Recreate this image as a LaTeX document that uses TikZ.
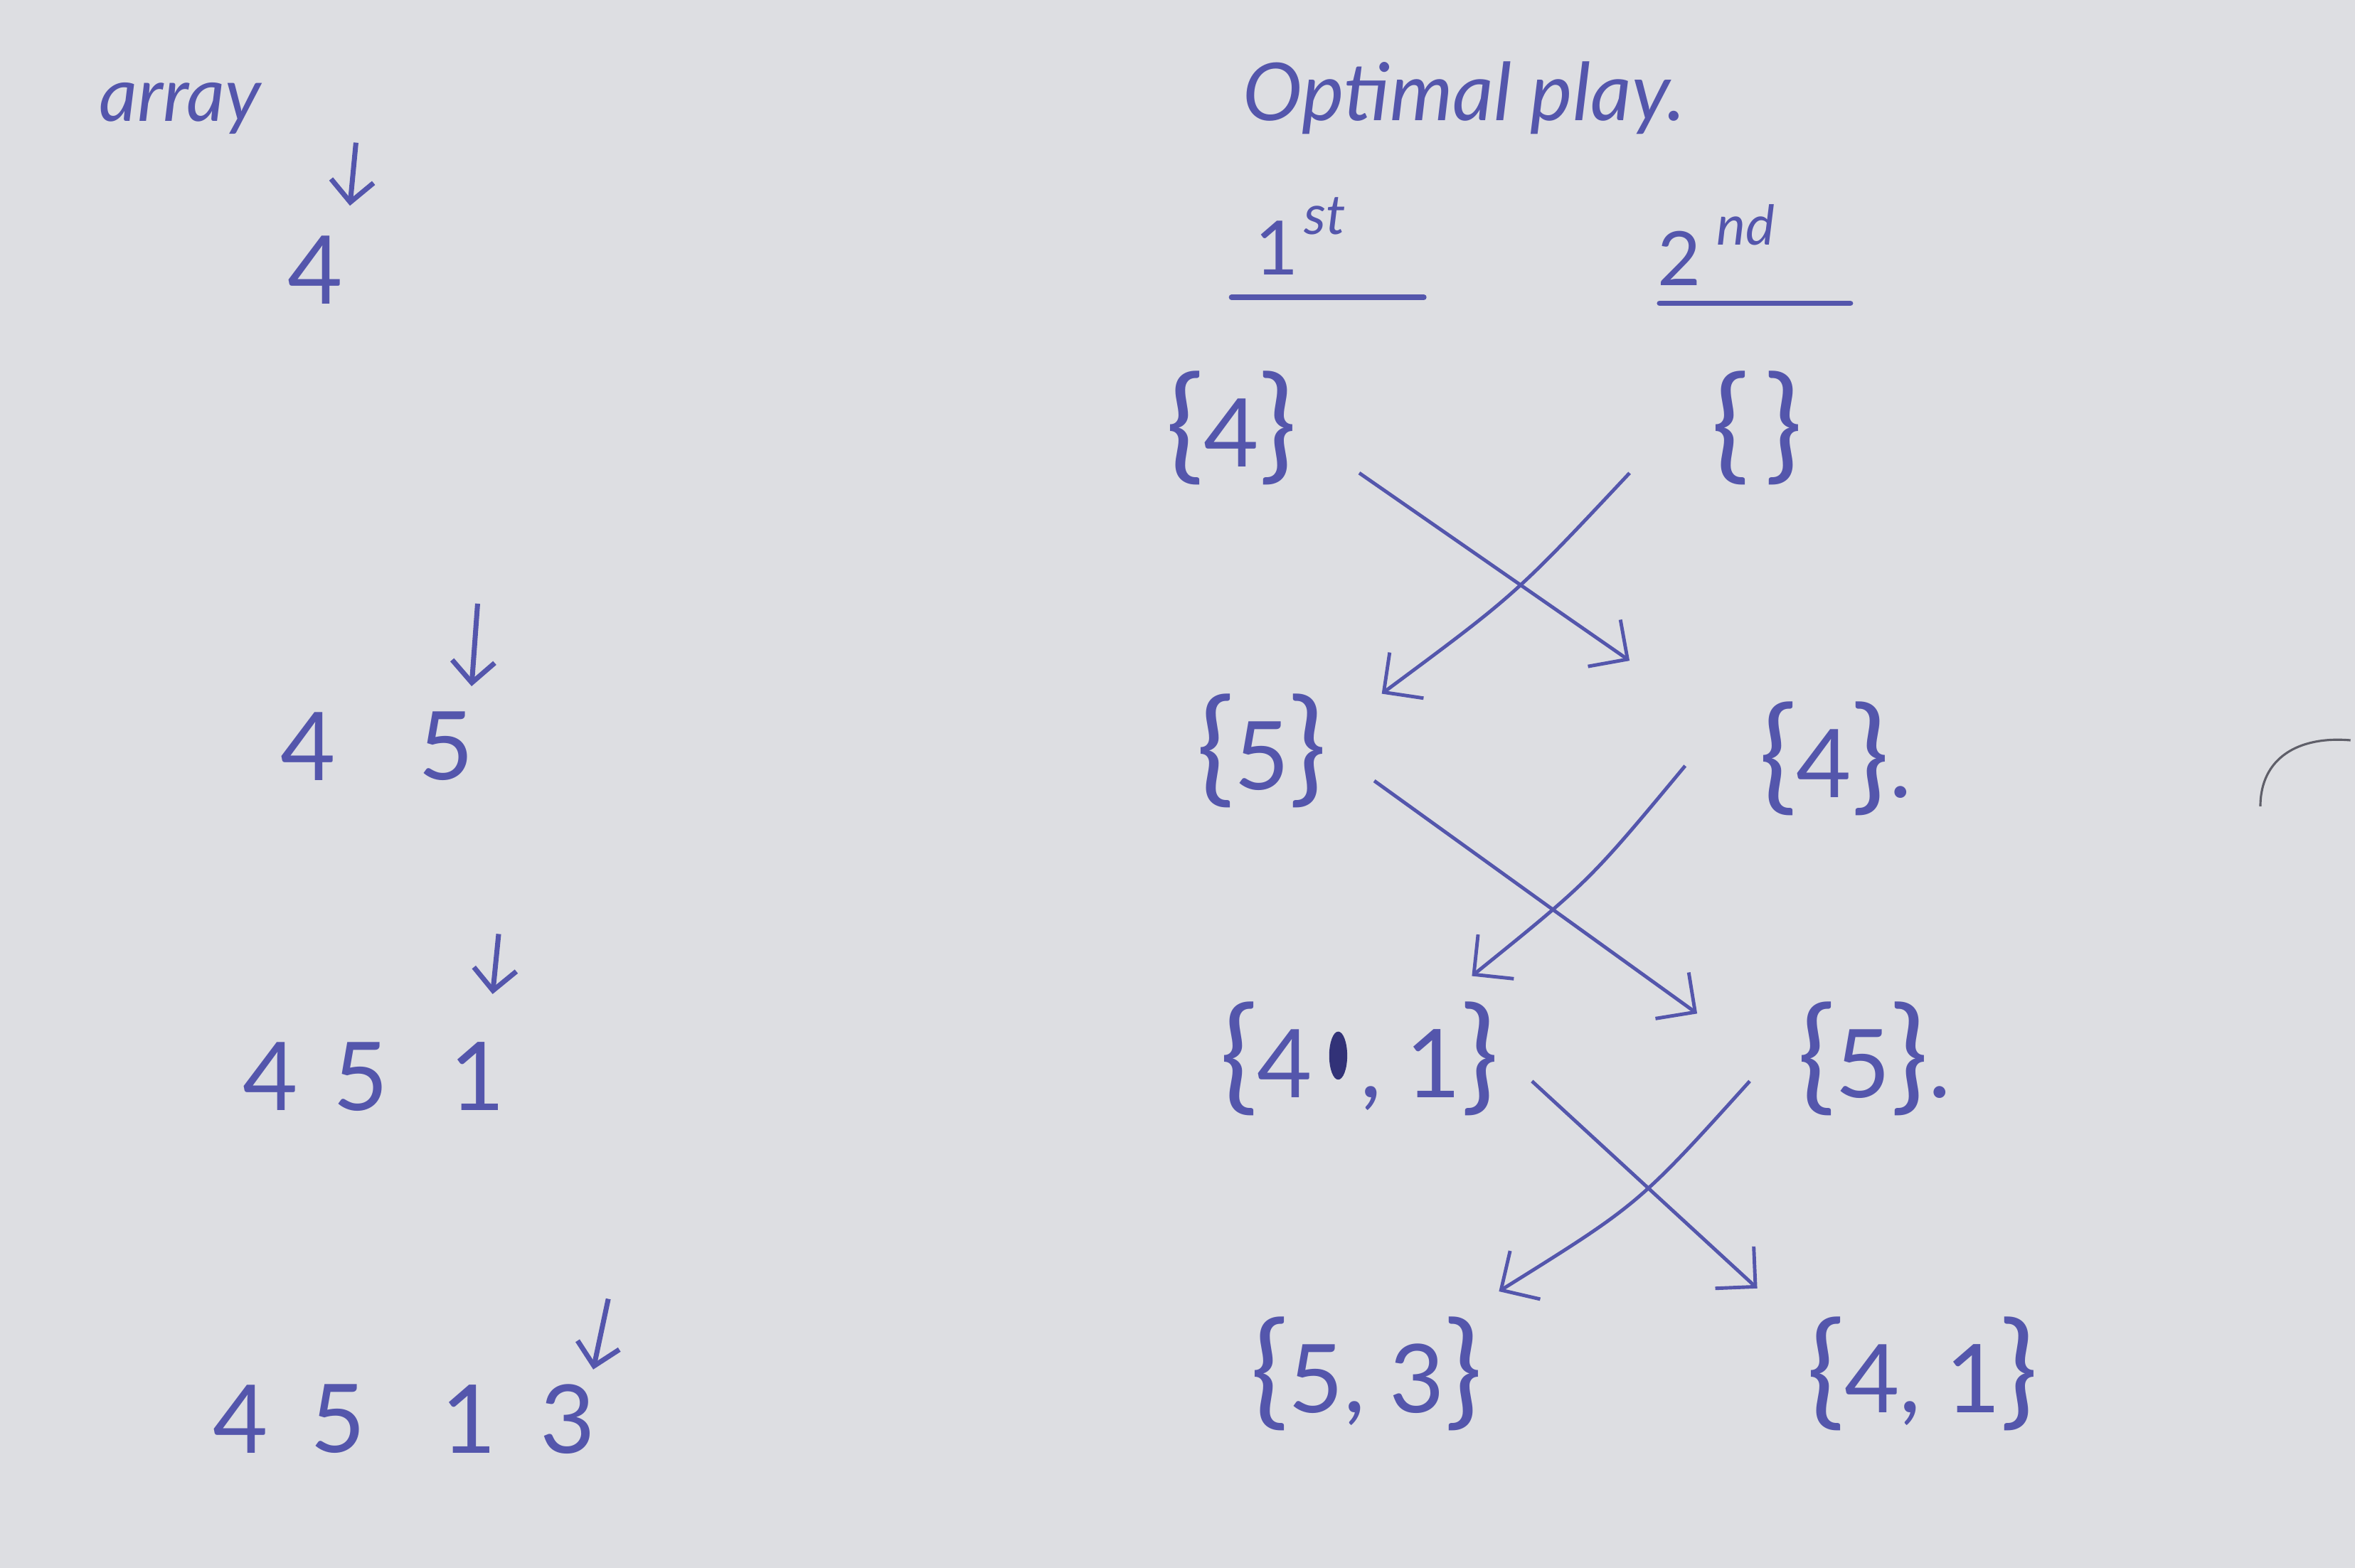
\documentclass[tikz,border=0pt]{standalone}
\usepackage{fontspec}
\setmainfont{Lato}
\usepackage{xcolor}
\usepackage{tikz}
\usetikzlibrary{arrows.meta,positioning,calc}

\definecolor{paper}{RGB}{221,222,226}
\definecolor{ink}{RGB}{84,86,172}
\definecolor{blot}{RGB}{50,50,120}
\definecolor{pencil}{RGB}{95,95,105}

\newcommand{\lbr}{{\fontsize{50}{50}\selectfont\{}}
\newcommand{\rbr}{{\fontsize{50}{50}\selectfont\}}}

\begin{document}
\begin{tikzpicture}[x=0.021116cm, y=-0.021116cm,
  num/.style={text=ink, font=\fontsize{38}{40}\selectfont, inner sep=0pt},
  set/.style={text=ink, font=\fontsize{38}{44}\selectfont, inner sep=0pt},
  head/.style={text=ink, font=\fontsize{32}{36}\selectfont\itshape, inner sep=0pt},
  supr/.style={text=ink, font=\fontsize{22}{24}\selectfont\itshape, inner sep=0pt},
  arr/.style={-{Straight Barb[length=4mm,width=8mm]}, ink, line width=1.4pt},
  tick/.style={-{Straight Barb[length=3mm,width=6mm]}, ink, line width=2pt},
  rule/.style={ink, line width=2.2pt, line cap=round},
]
\useasboundingbox (0,0) rectangle (1568,1044);
\fill[paper] (0,0) rectangle (1568,1044);

% left column: the array as it grows
\node[head, font=\fontsize{30}{34}\selectfont\itshape] (array) at (120,72) {array};
\node[num] (a1) at (210,180) {4};
\foreach \d/\x in {4/205,5/297}
  \node[num] (b\d) at (\x,497) {\d};
\foreach \d/\x in {4/180,5/240,1/318}
  \node[num] (c\d) at (\x,717) {\d};
\foreach \d/\x in {4/160,5/225,1/312,3/378}
  \node[num] (d\d) at (\x,945) {\d};

\draw[tick] ([shift={(27,-85)}]a1.center) -- ([shift={(23,-43)}]a1.center);
\draw[tick] ([shift={(21,-95)}]b5.center) -- ([shift={(17,-40)}]b5.center);
\draw[tick] ([shift={(14,-95)}]c1.center) -- ([shift={(10,-55)}]c1.center);
\draw[tick] ([shift={(27,-80)}]d3.center) -- ([shift={(17,-33)}]d3.center);

% right columns: what each player holds
\node[head] (optimal) at (975,65) {Optimal play.};
\node[num, font=\fontsize{30}{34}\selectfont] (one) at (850,165) {1};
\node[supr, above right=-6pt and 2pt of one] {st};
\node[num, font=\fontsize{30}{34}\selectfont] (two) at (1118,172) {2};
\node[supr, above right=-6pt and 6pt of two] {nd};
\draw[rule] ([shift={(-30,33)}]one.center) -- ([shift={(98,33)}]one.center);
\draw[rule] ([shift={(-13,30)}]two.center) -- ([shift={(114,30)}]two.center);

\node[set] (s1a) at (820,285) {\lbr4\rbr};
\node[set] (s1b) at (1170,285) {\lbr\,\rbr};
\node[set] (s2a) at (840,500) {\lbr5\rbr};
\node[set] (s2b) at (1222,505) {\lbr4\rbr.};
\node[set] (s3a) at (905,705) {\lbr4\,\,\,, 1\rbr};
\node[set] (s3b) at (1248,705) {\lbr5\rbr.};
\node[set] (s4a) at (910,915) {\lbr5, 3\rbr};
\node[set] (s4b) at (1280,915) {\lbr4, 1\rbr};
\fill[blot] ([shift={(-14,-2)}]s3a.center) ellipse (6 and 16);

\draw[arr] ([shift={(85,30)}]s1a.center) -- ([shift={(-137,-65)}]s2b.center);
\draw[arr] ([shift={(-85,30)}]s1b.center) .. controls ([shift={(-161,111)}]s1b.center) .. ([shift={(80,-38)}]s2a.center);
\draw[arr] ([shift={(75,20)}]s2a.center) -- ([shift={(-118,-30)}]s3b.center);
\draw[arr] ([shift={(-100,5)}]s2b.center) .. controls ([shift={(-164,82)}]s2b.center) .. ([shift={(75,-55)}]s3a.center);
\draw[arr] ([shift={(115,15)}]s3a.center) -- ([shift={(-110,-57)}]s4b.center);
\draw[arr] ([shift={(-83,15)}]s3b.center) .. controls ([shift={(-157,97)}]s3b.center) .. ([shift={(88,-55)}]s4a.center);

% pencil mark at the right edge
\draw[pencil, line width=0.9pt] (1505,537) .. controls (1505,505) and (1530,490) .. (1565,493);
\end{tikzpicture}
\end{document}
